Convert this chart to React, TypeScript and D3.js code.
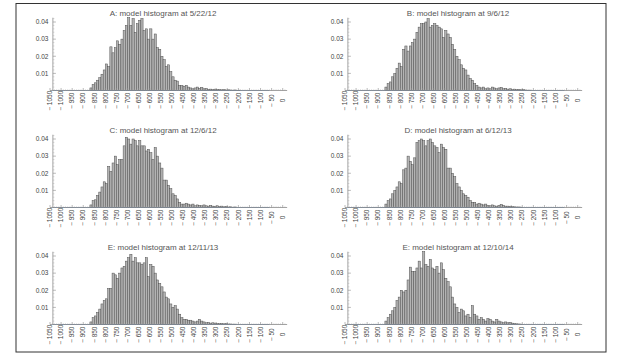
import React from "react";
import * as d3 from "d3";

// ---------- DATA ----------
const BIN_START = -870;
const BIN_WIDTH = 10;
const xTickValues = d3.range(-1050, 1, 50);
const yTickValues = [0.01, 0.02, 0.03, 0.04];

const titles = [
  "A: model histogram at 5/22/12",
  "B: model histogram at 9/6/12",
  "C: model histogram at 12/6/12",
  "D: model histogram at 6/12/13",
  "E: model histogram at 12/11/13",
  "E: model histogram at 12/10/14",
];

const histA = [0.0015, 0.0035, 0.0045, 0.006, 0.0075, 0.0095, 0.012, 0.0155, 0.014, 0.0255, 0.022, 0.025, 0.029, 0.027, 0.030, 0.035, 0.038, 0.0425, 0.038, 0.042, 0.034, 0.039, 0.041, 0.042, 0.035, 0.036, 0.030, 0.036, 0.030, 0.033, 0.025, 0.024, 0.020, 0.018, 0.014, 0.015, 0.011, 0.008, 0.006, 0.0055, 0.003, 0.003, 0.0025, 0.003, 0.002, 0.0015, 0.001, 0.0015, 0.002, 0.0012, 0.0018, 0.001, 0.0012, 0.0007, 0.0008, 0.0005, 0.0008, 0.0006, 0.0006, 0.0004, 0.0005, 0.0003, 0.0004, 0.0003, 0.0002, 0.0003, 0.0001, 0.0002];

const histB = [0.002, 0.004, 0.005, 0.008, 0.010, 0.013, 0.016, 0.014, 0.024, 0.026, 0.023, 0.026, 0.028, 0.030, 0.034, 0.037, 0.039, 0.039, 0.040, 0.042, 0.037, 0.038, 0.039, 0.038, 0.037, 0.036, 0.031, 0.035, 0.033, 0.031, 0.027, 0.024, 0.020, 0.018, 0.015, 0.013, 0.012, 0.009, 0.007, 0.006, 0.004, 0.003, 0.002, 0.0015, 0.002, 0.001, 0.0015, 0.001, 0.002, 0.0015, 0.001, 0.0015, 0.0018, 0.001, 0.0012, 0.0008, 0.001, 0.0006, 0.0008, 0.0005, 0.0006, 0.0004, 0.0005, 0.0003, 0.0002, 0.0002];

const histC = [0.0015, 0.004, 0.0045, 0.007, 0.009, 0.012, 0.015, 0.014, 0.024, 0.021, 0.026, 0.030, 0.025, 0.028, 0.028, 0.036, 0.041, 0.040, 0.037, 0.040, 0.039, 0.036, 0.039, 0.036, 0.036, 0.033, 0.034, 0.032, 0.028, 0.035, 0.030, 0.026, 0.023, 0.016, 0.016, 0.013, 0.011, 0.008, 0.007, 0.005, 0.003, 0.002, 0.002, 0.0025, 0.002, 0.0015, 0.002, 0.001, 0.0015, 0.0012, 0.001, 0.0015, 0.001, 0.0008, 0.0012, 0.0008, 0.0006, 0.001, 0.0006, 0.0008, 0.0004, 0.0006, 0.0003, 0.0004, 0.0002, 0.0003];

const histD = [0.002, 0.004, 0.005, 0.008, 0.010, 0.012, 0.015, 0.014, 0.022, 0.023, 0.030, 0.027, 0.025, 0.029, 0.038, 0.039, 0.040, 0.039, 0.036, 0.039, 0.040, 0.038, 0.036, 0.035, 0.032, 0.037, 0.035, 0.034, 0.023, 0.023, 0.020, 0.018, 0.014, 0.012, 0.010, 0.008, 0.007, 0.006, 0.004, 0.003, 0.003, 0.002, 0.0025, 0.002, 0.0015, 0.002, 0.0012, 0.001, 0.0015, 0.001, 0.0008, 0.0012, 0.0018, 0.0012, 0.0008, 0.0008, 0.0006, 0.0005, 0.0004, 0.0003, 0.0003, 0.0002];

const histE1 = [0.0015, 0.004, 0.005, 0.007, 0.009, 0.012, 0.014, 0.015, 0.021, 0.021, 0.030, 0.029, 0.027, 0.030, 0.033, 0.034, 0.037, 0.039, 0.041, 0.037, 0.039, 0.036, 0.036, 0.035, 0.036, 0.039, 0.028, 0.035, 0.034, 0.030, 0.026, 0.024, 0.022, 0.019, 0.016, 0.015, 0.012, 0.010, 0.011, 0.009, 0.006, 0.004, 0.003, 0.003, 0.0025, 0.0025, 0.002, 0.0015, 0.002, 0.003, 0.002, 0.0015, 0.001, 0.0012, 0.0008, 0.001, 0.0008, 0.0006, 0.0005, 0.0006, 0.0004, 0.0005, 0.0003, 0.0003, 0.0002, 0.0002];

const histE2 = [0.002, 0.004, 0.006, 0.008, 0.010, 0.014, 0.016, 0.020, 0.019, 0.020, 0.026, 0.0335, 0.031, 0.031, 0.033, 0.037, 0.033, 0.0425, 0.035, 0.034, 0.038, 0.033, 0.032, 0.034, 0.030, 0.036, 0.032, 0.027, 0.025, 0.022, 0.016, 0.012, 0.010, 0.007, 0.009, 0.008, 0.005, 0.006, 0.004, 0.011, 0.006, 0.005, 0.003, 0.004, 0.003, 0.002, 0.0035, 0.003, 0.002, 0.0015, 0.003, 0.002, 0.0015, 0.001, 0.0015, 0.001, 0.0012, 0.0008, 0.0006, 0.0004, 0.0003, 0.0002];

const allHists = [histA, histB, histC, histD, histE1, histE2];

// ---------- LAYOUT ----------
const W = 620;
const H = 364;
const colOffset = [0, 295];
const rowOffset = [0, 117, 234];
const X_LEFT = 50;
const X_RIGHT = 282.7;
const BASE_Y = 90.5;
const TOP_Y = 22;
const FONT = "'Liberation Sans', Arial, sans-serif";

function Panel({ idx }: { idx: number }) {
  const ox = colOffset[idx % 2];
  const oy = rowOffset[Math.floor(idx / 2)];
  const data = allHists[idx];
  const x = d3.scaleLinear().domain([-1050, 0]).range([X_LEFT + ox, X_RIGHT + ox]);
  const y = d3.scaleLinear().domain([0, 0.04]).range([BASE_Y + oy, TOP_Y + oy]);
  const yAxisX = x(-1037);
  const base = y(0);
  const minorY = d3.range(0.002, 0.0431, 0.002).filter((v) => Math.abs(v * 100 - Math.round(v * 100)) > 1e-6);
  const minorX = d3.range(-1040, 11, 10).filter((v) => v % 50 !== 0);
  const fmtX = (v: number) => (v < 0 ? "\u2212\u2009" + Math.abs(v) : String(v));
  return (
    <g>
      <text x={x(-1050) + 113} y={oy + 16} textAnchor="middle" fontFamily={FONT} fontSize={8} fill="#555">
        {titles[idx]}
      </text>
      {/* bars */}
      {data.map((v, i) => {
        const x0 = x(BIN_START + i * BIN_WIDTH);
        const x1 = x(BIN_START + (i + 1) * BIN_WIDTH);
        return (
          <rect
            key={i}
            x={x0}
            y={y(v)}
            width={x1 - x0}
            height={base - y(v)}
            fill="#b4b4b4"
            stroke="#505050"
            strokeWidth={0.5}
          />
        );
      })}
      {/* x axis */}
      <line x1={x(-1050)} x2={x(20)} y1={base} y2={base} stroke="#8c8c8c" strokeWidth={0.8} />
      <line x1={yAxisX} x2={x(-60)} y1={base} y2={base} stroke="#6f7d90" strokeWidth={0.6} />
      {xTickValues.map((v) => (
        <line key={"xt" + v} x1={x(v)} x2={x(v)} y1={base} y2={base - 2.5} stroke="#8c8c8c" strokeWidth={0.6} />
      ))}
      {minorX.map((v) => (
        <line key={"xm" + v} x1={x(v)} x2={x(v)} y1={base} y2={base - 1.2} stroke="#a0a0a0" strokeWidth={0.4} />
      ))}
      {xTickValues.map((v) => (
        <text
          key={"xl" + v}
          transform={`translate(${x(v) + 2.2},${base + 10}) rotate(-90)`}
          textAnchor="middle"
          fontFamily={FONT}
          fontSize={6.5}
          fill="#444"
        >
          {fmtX(v)}
        </text>
      ))}
      {/* y axis */}
      <line x1={yAxisX} x2={yAxisX} y1={base} y2={y(0.0425)} stroke="#8c8c8c" strokeWidth={0.8} />
      {yTickValues.map((v) => (
        <line key={"yt" + v} x1={yAxisX} x2={yAxisX + 3} y1={y(v)} y2={y(v)} stroke="#8c8c8c" strokeWidth={0.6} />
      ))}
      {minorY.map((v) => (
        <line key={"ym" + v} x1={yAxisX} x2={yAxisX + 1.5} y1={y(v)} y2={y(v)} stroke="#a0a0a0" strokeWidth={0.4} />
      ))}
      {yTickValues.map((v) => (
        <text
          key={"yl" + v}
          x={yAxisX - 4.5}
          y={y(v)}
          dy="0.35em"
          textAnchor="end"
          fontFamily={FONT}
          fontSize={6.5}
          fill="#444"
        >
          {v.toFixed(2)}
        </text>
      ))}
    </g>
  );
}

export default function App() {
  return (
    <svg width={W} height={H} style={{ position: "absolute", left: 0, top: 0, background: "#fff" }}>
      <rect x={0} y={0} width={W} height={H} fill="#fff" />
      <rect x={16} y={3.5} width={590} height={348.5} fill="none" stroke="#333" strokeWidth={1} />
      {titles.map((_, i) => (
        <Panel key={i} idx={i} />
      ))}
    </svg>
  );
}
